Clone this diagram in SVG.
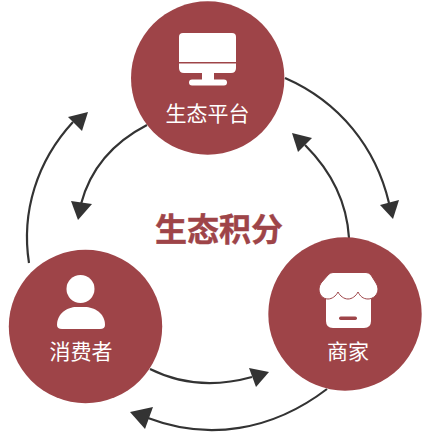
<svg xmlns="http://www.w3.org/2000/svg" width="430" height="441" viewBox="0 0 430 441">
<style>
.c{fill:#9e4448}
.i{fill:#fff}
.l{fill:#fff;font:400 21px "Noto Sans CJK SC","Liberation Sans",sans-serif;text-anchor:middle}
.e{fill:none;stroke:#333;stroke-width:2.2}
.h{fill:#333}
.t{fill:#9e4448;stroke:#9e4448;stroke-width:.4;font:bold 32px "Noto Sans CJK SC","Liberation Sans",sans-serif;text-anchor:middle}
</style>
<rect width="430" height="441" fill="#fff"/>
<g id="connectors">
<path class="e" d="M285 78C340 102 376 148 389 203"/>
<polygon class="h" points="393,219 380,205 399,200"/>
<path class="e" d="M349 238C347 204 332 172 305 145"/>
<polygon class="h" points="292,133 312,138 298,152"/>
<path class="e" d="M29 263C21 212 37 161 73 122"/>
<polygon class="h" points="88,112 68,117 82,131"/>
<path class="e" d="M147 125C112 143 90 170 81 204"/>
<polygon class="h" points="78,220 71,201 92,204"/>
<path class="e" d="M150 369C182 385 216 387 252 377"/>
<polygon class="h" points="269,372 249,368 256,387"/>
<path class="e" d="M327 389C272 431 208 441 148 418"/>
<polygon class="h" points="130,412 153,407 145,429"/>
</g>
<g id="platform">
<circle class="c" cx="207.700" cy="78" r="76.700"/>
<path class="i" d="M183 33H232Q236 33 236 37V62H179V37Q179 33 183 33Z"/>
<path class="i" d="M179 63.500H236V68Q236 73 231 73H184Q179 73 179 68Z"/>
<rect class="i" x="202" y="72" width="12" height="8"/>
<rect class="i" x="189" y="79.500" width="38" height="6" rx="3"/>
<text class="l" x="207.500" y="121">生态平台</text>
</g>
<g id="merchant">
<circle class="c" cx="345" cy="314" r="76.700"/>
<path class="i" d="M326 285H371V321Q371 328 364 328H333Q326 328 326 321Z"/>
<path class="i" stroke="#9e4448" stroke-width="1" d="M333 272.500H366Q369 272.500 371 275L376 283Q378 286 378 289C378 295 373 299 368 299C363 299 360 296 358 292C356 296 352 299 348 299C344 299 340 296 338 292C336 296 332 299 328 299C323 299 319 295 319 289Q319 286 321 283L328 275Q330 272.500 333 272.500Z"/>
<rect x="339" y="316.500" width="18" height="3.500" rx="1.700" class="c"/>
<text class="l" x="348" y="359">商家</text>
</g>
<g id="consumer">
<circle class="c" cx="85.500" cy="326.500" r="76.700"/>
<circle class="i" cx="80.500" cy="289" r="14"/>
<path class="i" d="M57 325C57 313 68 307 76 307H85C94 307 105 313 105 325Q105 329 100 329H62Q57 329 57 325Z"/>
<text class="l" x="81" y="358.500">消费者</text>
</g>
<text class="t" x="219" y="241">生态积分</text>
</svg>
